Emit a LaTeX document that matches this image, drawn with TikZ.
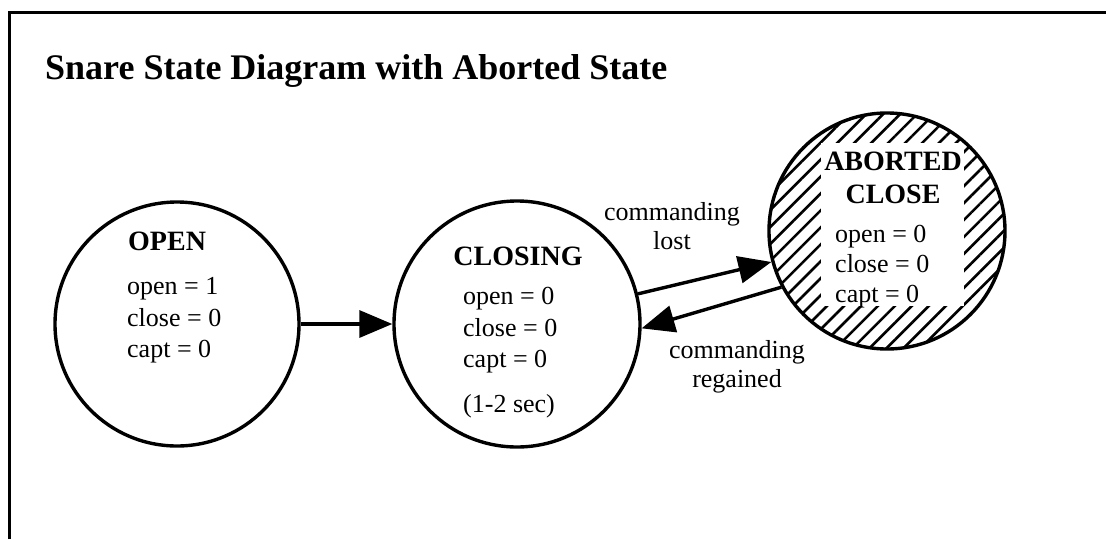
\documentclass[tikz,border=0pt]{standalone}
\usepackage{fontspec}
\setmainfont{Liberation Serif}
\usetikzlibrary{arrows.meta,patterns.meta}

\begin{document}
\begin{tikzpicture}[x=1pt,y=-1pt,
  state/.style={circle,draw,line width=3.4pt,inner sep=0pt},
  body/.style={font=\fontsize{26}{30}\selectfont,inner sep=0pt,anchor=base west},
  head/.style={font=\bfseries\fontsize{28}{32}\selectfont,inner sep=0pt,anchor=base},
  trans/.style={line width=3.4pt,-{Triangle[length=33pt,width=27pt]}},
  lbl/.style={font=\fontsize{26}{29}\selectfont,align=center,inner sep=0pt}]

\useasboundingbox (0,0) rectangle (1106,539);

% frame
\draw[line width=3pt] (9,539) -- (9,12) -- (1106,12);

% title
\node[anchor=base west,inner sep=0pt,font=\bfseries\fontsize{36}{40}\selectfont]
  (title) at (45,79) {Snare State Diagram with Aborted State};

% states
\node[state,minimum size=244pt] (open) at (177,324) {};
\node[state,minimum size=246pt] (closing) at (517,324) {};

\begin{scope}
  \clip (887,231) circle[radius=118pt];
  \fill[pattern={Lines[angle=45,distance=12pt,line width=2.6pt]}]
    (765,109) rectangle (1009,353);
  \fill[white] (821,143) rectangle (964,306);
\end{scope}
\node[state,minimum size=236pt] (aborted) at (887,231) {};

% OPEN contents
\node[body,font=\bfseries\fontsize{28}{32}\selectfont] (openh) at (128,250) {OPEN};
\node[body] (open1) at (127,294) {open = 1};
\node[body] (open2) at (127,326) {close = 0};
\node[body] (open3) at (127,357) {capt = 0};

% CLOSING contents
\node[head] (closingh) at (518,265) {CLOSING};
\node[body] (closing1) at (463,304) {open = 0};
\node[body] (closing2) at (463,336) {close = 0};
\node[body] (closing3) at (463,367) {capt = 0};
\node[body] (closing4) at (463,412) {(1-2 sec)};

% ABORTED CLOSE contents
\node[head] (abortedh1) at (893,170) {ABORTED};
\node[head] (abortedh2) at (893,203) {CLOSE};
\node[body] (aborted1) at (835,242) {open = 0};
\node[body] (aborted2) at (835,272) {close = 0};
\node[body] (aborted3) at (835,302) {capt = 0};

% transitions
\draw[trans] (open.east) -- (closing.west);
\draw[trans] (closing.14) -- (aborted.195);
\draw[trans] (aborted.208) -- (closing.-2);

% transition labels
\node[lbl] (lostlbl) at (672,226) {commanding\\lost};
\node[lbl] (regainlbl) at (737,367) {commanding\\regained};
\end{tikzpicture}
\end{document}
